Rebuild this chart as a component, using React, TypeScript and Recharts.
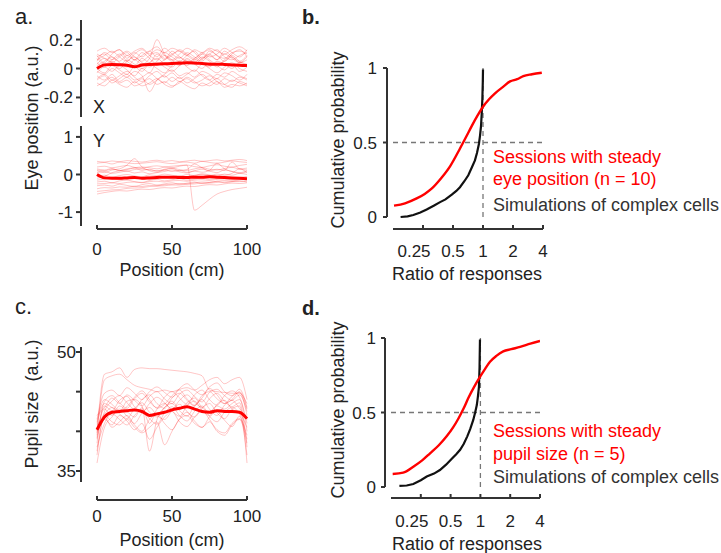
import React from 'react';
import { LineChart, Line, XAxis, YAxis, ReferenceLine } from 'recharts';

// ---- panel a / c : position along track (cm)
const positions = [0, 5, 10, 15, 20, 25, 30, 35, 40, 45, 50, 55, 60, 65, 70, 75, 80, 85, 90, 95, 100];

const eyeXMean = [0.0, 0.025, 0.028, 0.026, 0.022, 0.012, 0.024, 0.028, 0.03, 0.032, 0.035, 0.036, 0.04, 0.038, 0.034, 0.03, 0.03, 0.028, 0.025, 0.022, 0.02];
const eyeXTraces = [
  [0.08, 0.1, 0.06, 0.09, 0.12, 0.08, 0.05, 0.09, 0.11, 0.07, 0.1, 0.12, 0.09, 0.06, 0.1, 0.13, 0.09, 0.07, 0.11, 0.12, 0.1],
  [-0.05, -0.08, -0.04, -0.09, -0.06, -0.1, -0.07, -0.11, -0.08, -0.05, -0.09, -0.06, -0.1, -0.07, -0.04, -0.08, -0.11, -0.07, -0.09, -0.06, -0.08],
  [0.02, 0.05, 0.08, 0.04, 0.01, 0.06, 0.03, 0.07, 0.2, 0.1, 0.05, 0.08, 0.04, 0.07, 0.1, 0.06, 0.03, 0.05, 0.08, 0.04, 0.06],
  [-0.02, -0.04, 0.0, -0.03, -0.06, -0.02, -0.05, -0.16, -0.08, -0.04, -0.01, -0.05, -0.03, -0.06, -0.02, -0.04, -0.07, -0.03, -0.05, -0.08, -0.04],
  [0.12, 0.14, 0.11, 0.13, 0.09, 0.12, 0.14, 0.1, 0.13, 0.11, 0.14, 0.12, 0.09, 0.13, 0.11, 0.14, 0.12, 0.1, 0.13, 0.15, 0.12],
  [0.04, 0.01, 0.05, 0.02, 0.06, 0.03, 0.0, 0.04, 0.07, 0.03, 0.01, 0.05, 0.02, 0.06, 0.04, 0.01, 0.05, 0.03, 0.0, 0.04, 0.02],
  [-0.1, -0.12, -0.08, -0.11, -0.13, -0.09, -0.12, -0.1, -0.07, -0.11, -0.13, -0.09, -0.12, -0.14, -0.1, -0.12, -0.09, -0.13, -0.11, -0.12, -0.1],
  [0.06, 0.09, 0.12, 0.08, 0.05, 0.1, 0.13, 0.09, 0.06, 0.11, 0.08, 0.05, 0.09, 0.12, 0.07, 0.1, 0.13, 0.08, 0.06, 0.09, 0.11],
  [0.0, -0.03, 0.02, -0.01, -0.04, 0.01, -0.02, 0.03, 0.0, -0.03, 0.02, 0.05, 0.01, -0.02, 0.03, 0.0, -0.03, 0.01, 0.04, 0.0, -0.02],
  [0.1, 0.07, 0.04, 0.08, 0.11, 0.06, 0.09, 0.12, 0.08, 0.14, 0.1, 0.07, 0.11, 0.08, 0.05, 0.09, 0.06, 0.1, 0.07, 0.04, 0.08],
  [-0.07, -0.04, -0.08, -0.05, -0.02, -0.06, -0.09, -0.05, -0.02, -0.06, -0.03, -0.07, -0.04, -0.01, -0.05, -0.08, -0.04, -0.06, -0.02, -0.05, -0.07],
  [0.03, 0.07, 0.04, 0.0, 0.05, 0.08, 0.04, 0.01, 0.05, 0.09, 0.06, 0.02, 0.07, 0.04, 0.08, 0.05, 0.01, 0.06, 0.09, 0.05, 0.03],
  [0.07, 0.03, 0.06, 0.1, 0.05, 0.02, 0.07, 0.04, 0.1, 0.06, 0.12, 0.08, 0.05, 0.03, 0.07, 0.1, 0.06, 0.12, 0.08, 0.05, 0.09],
  [-0.03, 0.01, -0.02, 0.02, -0.01, -0.05, 0.0, -0.03, 0.04, 0.01, -0.02, 0.02, 0.06, 0.03, 0.0, 0.04, 0.02, -0.01, 0.03, -0.02, 0.01],
  [0.05, 0.11, 0.08, 0.05, 0.09, 0.06, 0.11, 0.07, 0.03, 0.06, 0.09, 0.13, 0.1, 0.07, 0.11, 0.08, 0.1, 0.14, 0.11, 0.08, 0.13],
  [-0.08, -0.05, -0.1, -0.07, -0.04, -0.08, -0.06, -0.03, -0.07, -0.1, -0.06, -0.09, -0.07, -0.1, -0.08, -0.05, -0.09, -0.11, -0.08, -0.1, -0.12],
  [0.09, 0.04, 0.1, 0.13, 0.07, 0.11, 0.08, 0.12, 0.15, 0.09, 0.06, 0.1, 0.14, 0.11, 0.06, 0.12, 0.09, 0.05, 0.1, 0.13, 0.08],
  [-0.12, -0.09, -0.06, -0.1, -0.08, -0.12, -0.1, -0.07, -0.11, -0.09, -0.12, -0.1, -0.06, -0.09, -0.12, -0.1, -0.07, -0.11, -0.13, -0.09, -0.11],
];

const eyeYMean = [0.0, -0.09, -0.1, -0.1, -0.09, -0.08, -0.1, -0.09, -0.08, -0.07, -0.07, -0.08, -0.08, -0.07, -0.07, -0.06, -0.07, -0.08, -0.09, -0.1, -0.11];
const eyeYTraces = [
  [0.3, 0.32, 0.28, 0.33, 0.31, 0.29, 0.3, 0.32, 0.34, 0.31, 0.29, 0.32, 0.33, 0.3, 0.35, 0.32, 0.3, 0.33, 0.36, 0.34, 0.32],
  [-0.45, -0.43, -0.41, -0.4, -0.37, -0.36, -0.35, -0.32, -0.31, -0.3, -0.28, -0.28, -0.26, -0.25, -0.23, -0.23, -0.21, -0.2, -0.19, -0.19, -0.17],
  [0.1, 0.05, 0.12, 0.15, 0.25, 0.42, 0.2, 0.1, 0.06, 0.12, 0.08, 0.11, 0.06, 0.1, 0.14, 0.09, 0.05, 0.12, 0.08, 0.03, 0.07],
  [-0.1, -0.05, 0.05, 0.1, 0.15, 0.18, 0.2, 0.18, 0.15, 0.2, 0.22, 0.24, 0.25, -0.95, -0.82, -0.66, -0.52, -0.45, -0.4, -0.37, -0.34],
  [-0.3, -0.28, -0.31, -0.26, -0.29, -0.32, -0.27, -0.24, -0.28, -0.25, -0.22, -0.26, -0.23, -0.2, -0.24, -0.21, -0.18, -0.22, -0.19, -0.17, -0.2],
  [0.2, 0.22, 0.18, 0.21, 0.24, 0.19, 0.17, 0.21, 0.23, 0.2, 0.18, 0.22, 0.25, 0.21, 0.19, 0.23, 0.26, 0.22, 0.2, 0.24, 0.27],
  [-0.2, -0.18, -0.22, -0.17, -0.15, -0.19, -0.21, -0.16, -0.13, -0.17, -0.14, -0.11, -0.15, -0.12, -0.09, -0.13, -0.1, -0.07, -0.11, -0.08, -0.05],
  [0.05, 0.08, 0.03, 0.06, 0.09, 0.04, 0.07, 0.02, 0.05, 0.08, 0.12, 0.07, 0.04, 0.09, 0.06, 0.11, 0.3, 0.15, 0.08, 0.05, 0.1],
  [-0.52, -0.48, -0.45, -0.43, -0.44, -0.41, -0.39, -0.4, -0.37, -0.35, -0.36, -0.33, -0.31, -0.32, -0.29, -0.27, -0.28, -0.25, -0.23, -0.24, -0.22],
  [0.15, 0.12, 0.16, 0.1, 0.13, 0.17, 0.11, 0.14, 0.09, 0.12, 0.16, 0.1, 0.13, 0.28, 0.18, 0.1, 0.14, 0.11, 0.33, 0.15, 0.12],
  [-0.05, -0.02, -0.07, -0.03, 0.0, -0.04, -0.06, -0.01, -0.03, 0.01, -0.02, -0.05, 0.0, -0.03, 0.02, -0.01, -0.04, 0.01, -0.02, 0.03, 0.0],
  [0.35, 0.33, 0.36, 0.34, 0.37, 0.35, 0.33, 0.36, 0.38, 0.35, 0.37, 0.34, 0.36, 0.38, 0.35, 0.37, 0.39, 0.36, 0.38, 0.4, 0.37],
  [-0.38, -0.35, -0.36, -0.33, -0.34, -0.31, -0.32, -0.29, -0.3, -0.27, -0.26, -0.24, -0.25, -0.22, -0.2, -0.21, -0.18, -0.16, -0.17, -0.14, -0.12],
  [-0.15, -0.12, -0.1, -0.13, -0.09, -0.11, -0.08, -0.06, -0.09, -0.05, -0.07, -0.03, -0.06, -0.02, 0.0, -0.03, 0.01, -0.02, 0.03, 0.15, 0.05],
  [0.12, 0.1, 0.14, 0.11, 0.09, 0.13, 0.15, 0.12, 0.1, 0.14, 0.17, 0.13, 0.11, 0.15, 0.18, 0.14, 0.12, 0.16, 0.19, 0.15, 0.17],
  [-0.25, -0.24, -0.22, -0.24, -0.21, -0.2, -0.22, -0.19, -0.18, -0.2, -0.17, -0.16, -0.18, -0.15, -0.14, -0.16, -0.13, -0.12, -0.14, -0.11, -0.1],
];

const pupilMean = [40.2, 41.8, 42.4, 42.5, 42.6, 42.7, 42.5, 42.0, 42.2, 42.4, 42.7, 42.9, 43.1, 42.8, 42.5, 42.4, 42.6, 42.5, 42.5, 42.4, 41.6];
const pupilTraces = [
  [40.0, 47.2, 47.5, 48.0, 46.8, 47.8, 48.0, 47.9, 47.9, 47.8, 47.7, 47.6, 47.5, 47.3, 47.0, 45.2, 45.0, 44.9, 44.8, 44.8, 43.5],
  [39.5, 46.5, 47.0, 47.2, 46.5, 45.8, 45.5, 45.3, 45.0, 45.2, 45.0, 45.3, 45.5, 45.2, 45.8, 46.5, 46.8, 46.0, 46.5, 46.8, 44.0],
  [41.0, 43.5, 43.0, 42.5, 43.8, 44.0, 43.2, 37.5, 41.5, 43.0, 43.5, 42.8, 43.6, 44.2, 43.0, 42.5, 43.2, 42.8, 43.5, 44.0, 40.0],
  [39.0, 42.0, 41.2, 40.8, 41.5, 40.5, 39.8, 40.5, 41.2, 38.3, 40.0, 41.5, 42.0, 41.0, 40.5, 41.2, 40.0, 39.5, 40.8, 41.5, 38.5],
  [37.0, 42.5, 43.8, 44.5, 43.6, 42.8, 44.0, 44.6, 43.5, 42.9, 44.2, 44.8, 43.9, 43.2, 44.5, 45.0, 44.1, 43.5, 44.4, 44.9, 42.0],
  [36.0, 40.5, 41.8, 42.8, 41.9, 41.0, 42.3, 43.0, 42.0, 41.5, 42.6, 43.4, 42.5, 41.8, 42.9, 43.5, 42.3, 41.6, 42.8, 43.2, 36.0],
  [38.5, 43.8, 44.5, 43.6, 42.9, 44.1, 44.8, 43.7, 43.0, 44.3, 45.0, 44.2, 43.4, 44.6, 45.2, 44.0, 43.3, 44.5, 45.1, 44.3, 41.0],
  [40.5, 41.5, 40.8, 42.0, 41.3, 40.2, 41.0, 39.0, 40.5, 41.8, 42.5, 41.2, 40.6, 41.8, 42.6, 41.5, 40.2, 39.8, 41.0, 41.6, 39.5],
  [41.5, 44.8, 45.2, 44.5, 45.5, 44.8, 44.0, 45.0, 45.6, 44.9, 44.3, 45.4, 46.0, 45.2, 44.6, 45.6, 46.1, 45.0, 44.5, 45.3, 43.0],
  [38.0, 41.0, 42.2, 41.5, 40.8, 42.0, 42.8, 41.6, 40.9, 42.3, 43.1, 42.0, 41.3, 42.5, 43.2, 41.9, 41.2, 42.4, 43.0, 42.2, 39.0],
  [39.8, 42.8, 42.0, 43.2, 42.5, 41.8, 43.0, 41.0, 42.8, 43.5, 42.6, 41.9, 43.2, 43.8, 42.7, 42.0, 43.4, 43.9, 42.8, 42.3, 40.5],
  [42.0, 43.0, 44.2, 43.5, 44.6, 43.9, 43.2, 44.4, 45.0, 44.1, 43.5, 44.7, 45.2, 44.4, 43.7, 44.9, 45.3, 44.5, 43.9, 44.6, 42.5],
  [37.5, 41.8, 40.5, 41.2, 42.0, 40.8, 40.0, 41.5, 42.2, 41.0, 40.2, 41.6, 42.4, 41.3, 40.5, 41.8, 42.5, 41.4, 40.6, 41.9, 37.0],
  [40.8, 42.2, 43.0, 42.2, 41.6, 42.9, 43.6, 42.4, 41.8, 43.0, 43.8, 42.6, 41.9, 43.2, 44.0, 42.8, 42.0, 43.3, 43.9, 42.9, 41.5],
  [39.2, 43.2, 42.6, 43.9, 44.4, 43.1, 42.4, 43.5, 44.3, 43.6, 42.8, 43.9, 44.6, 43.7, 43.0, 44.1, 44.8, 43.8, 43.1, 43.6, 38.0],
  [41.2, 44.0, 43.4, 42.6, 43.1, 44.3, 45.1, 44.0, 42.9, 43.4, 44.5, 45.2, 44.1, 43.3, 44.2, 45.4, 44.6, 43.5, 44.0, 45.0, 42.8],
];

// ---- panel b / d : cumulative distributions of response ratio
const ratioTicks = [0.25, 0.5, 1, 2, 4];

const eyeSessRatio = [0.128, 0.165, 0.216, 0.26, 0.305, 0.38, 0.467, 0.588, 0.68, 0.77, 0.88, 1.0, 1.15, 1.32, 1.6, 1.87, 2.2, 2.54, 3.1, 3.89];
const eyeSessCdf = [0.076, 0.092, 0.125, 0.155, 0.19, 0.26, 0.34, 0.46, 0.54, 0.61, 0.68, 0.74, 0.79, 0.83, 0.875, 0.91, 0.925, 0.946, 0.958, 0.968];
const eyeSimRatio = [0.149, 0.175, 0.2, 0.235, 0.272, 0.32, 0.371, 0.42, 0.486, 0.54, 0.587, 0.65, 0.712, 0.77, 0.83, 0.87, 0.91, 0.935, 0.955, 0.972, 0.985, 0.995, 1.0];
const eyeSimCdf = [0.0, 0.004, 0.013, 0.03, 0.05, 0.075, 0.1, 0.118, 0.15, 0.175, 0.2, 0.24, 0.28, 0.33, 0.38, 0.43, 0.49, 0.55, 0.61, 0.7, 0.79, 0.9, 0.99];

const pupilSessRatio = [0.13, 0.166, 0.21, 0.26, 0.31, 0.38, 0.456, 0.53, 0.6, 0.68, 0.753, 0.87, 0.993, 1.12, 1.25, 1.45, 1.7, 2.05, 2.52, 3.2, 4.0];
const pupilSessCdf = [0.087, 0.096, 0.136, 0.18, 0.226, 0.28, 0.34, 0.4, 0.46, 0.53, 0.595, 0.675, 0.74, 0.795, 0.84, 0.88, 0.91, 0.925, 0.94, 0.962, 0.98];
const pupilSimRatio = [0.152, 0.18, 0.21, 0.25, 0.287, 0.34, 0.39, 0.45, 0.514, 0.57, 0.624, 0.68, 0.737, 0.79, 0.847, 0.885, 0.92, 0.945, 0.966, 0.98, 0.99];
const pupilSimCdf = [0.007, 0.01, 0.02, 0.045, 0.07, 0.09, 0.114, 0.15, 0.19, 0.22, 0.25, 0.29, 0.34, 0.39, 0.45, 0.5, 0.55, 0.61, 0.67, 0.8, 0.99];

const W = 721;
const H = 553;
const FONT = '"Liberation Sans", Arial, Helvetica, sans-serif';
const AXIS = '#333';
const TEXT = '#222';
const RED = '#ff0000';

const traceRows = (mean: number[], traces: number[][]) =>
  positions.map((p, i) => {
    const row: Record<string, number> = { pos: p, mean: mean[i] };
    traces.forEach((t, k) => { row['t' + k] = t[i]; });
    return row;
  });

const cdfRows = (xs: number[], ys: number[]) => xs.map((x, i) => ({ ratio: x, p: ys[i] }));

// plot box (page px) -> chart margin
const Y_W = 50;
const X_H = 40;
const margins = (l: number, t: number, r: number, b: number, xH: number) => ({
  left: l - Y_W, top: t, right: W - r, bottom: H - b - xH,
});

const axisLine = { stroke: AXIS, strokeWidth: 2 };
const tickFont = { fontSize: 17, fill: TEXT };

// "0.25" sits a little left of its tick in the original
const RatioTick = ({ x, y, payload }: any) => (
  <text x={x + (payload.value === 0.25 ? -9 : 0)} y={y} dy="0.71em" textAnchor="middle" fontSize={17} fill={TEXT}>
    {String(payload.value)}
  </text>
);

type TraceProps = {
  cls: string; rows: Record<string, number>[]; n: number; box: number[];
  yDomain: number[]; yTicks: number[]; yFmt?: (v: number) => string;
  showX: boolean; xTm?: number; yTm: number;
};

const TraceChart = ({ cls, rows, n, box, yDomain, yTicks, yFmt, showX, xTm = 18, yTm }: TraceProps) => {
  const [l, t, r, b] = box;
  return (
    <div className={cls} style={{ position: 'absolute', left: 0, top: 0 }}>
      <LineChart width={W} height={H} data={rows} margin={margins(l, t, r, b, showX ? X_H : 0)}>
        <XAxis dataKey="pos" type="number" domain={[0, 100]} ticks={[0, 50, 100]} interval={0}
          hide={!showX} height={X_H} axisLine={axisLine} tickLine={axisLine} tickSize={-4} tickMargin={xTm} tick={tickFont} />
        <YAxis type="number" domain={yDomain} ticks={yTicks} interval={0} allowDataOverflow width={Y_W}
          axisLine={axisLine} tickLine={axisLine} tickSize={5} tickMargin={yTm} tick={tickFont} tickFormatter={yFmt} />
        {Array.from({ length: n }, (_, k) => (
          <Line key={k} dataKey={'t' + k} type="monotone" stroke={RED} strokeOpacity={0.25} strokeWidth={0.9}
            dot={false} activeDot={false} isAnimationActive={false} />
        ))}
        <Line dataKey="mean" type="monotone" stroke={RED} strokeWidth={3} dot={false} activeDot={false} isAnimationActive={false} />
      </LineChart>
    </div>
  );
};

type CdfProps = {
  cls: string; box: number[]; sess: { ratio: number; p: number }[]; sim: { ratio: number; p: number }[];
  xTm: number; yTm: number;
};

const CdfChart = ({ cls, box, sess, sim, xTm, yTm }: CdfProps) => {
  const [l, t, r, b] = box;
  return (
    <div className={cls} style={{ position: 'absolute', left: 0, top: 0 }}>
      <LineChart width={W} height={H} margin={margins(l, t, r, b, X_H)}>
        <XAxis dataKey="ratio" type="number" scale="log" domain={[0.125, 4]} ticks={ratioTicks} interval={0} allowDataOverflow
          height={X_H} axisLine={axisLine} tickLine={axisLine} tickSize={-4} tickMargin={xTm} tick={<RatioTick />} />
        <YAxis type="number" domain={[0, 1]} ticks={[0, 0.5, 1]} interval={0} width={Y_W}
          axisLine={axisLine} tickLine={axisLine} tickSize={4} tickMargin={yTm} tick={tickFont} />
        <ReferenceLine y={0.5} stroke="#777" strokeWidth={1.3} strokeDasharray="5 4" />
        <ReferenceLine x={1} stroke="#777" strokeWidth={1.3} strokeDasharray="5 4" />
        <Line data={sim} dataKey="p" type="linear" stroke="#111" strokeWidth={2.2} dot={false} activeDot={false} isAnimationActive={false} />
        <Line data={sess} dataKey="p" type="monotone" stroke={RED} strokeWidth={2.4} dot={false} activeDot={false} isAnimationActive={false} />
      </LineChart>
    </div>
  );
};

// text placed by left edge (or centre) and baseline
const Txt = ({ x, y, size = 18, color = TEXT, bold = false, center = false, children }: any) => (
  <div style={{
    position: 'absolute', left: x, top: y - 0.8465 * size, fontSize: size, lineHeight: 1, color,
    fontWeight: bold ? 700 : 400, whiteSpace: 'pre', transform: center ? 'translateX(-50%)' : undefined,
  }}>{children}</div>
);

const VTxt = ({ cx, cy, size = 18, children }: any) => (
  <div style={{
    position: 'absolute', left: cx, top: cy, fontSize: size, lineHeight: 1, color: TEXT, whiteSpace: 'pre',
    transform: 'translate(-50%, -50%) rotate(-90deg)',
  }}>{children}</div>
);

// axis lines sit away from the plot area (tick labels are placed through tickMargin)
const css = `
.pa .recharts-cartesian-axis.recharts-yAxis, .pa2 .recharts-cartesian-axis.recharts-yAxis, .pc .recharts-cartesian-axis.recharts-yAxis { transform: translate(-16px, 0); }
.pa2 .recharts-cartesian-axis.recharts-xAxis { transform: translate(0, 3px); }
.pc .recharts-cartesian-axis.recharts-xAxis { transform: translate(0, 18px); }
.pb .recharts-cartesian-axis.recharts-yAxis, .pd .recharts-cartesian-axis.recharts-yAxis { transform: translate(-6px, 0); }
.pb .recharts-cartesian-axis.recharts-xAxis { transform: translate(0, 12px); }
.pd .recharts-cartesian-axis.recharts-xAxis { transform: translate(0, 11px); }
`;

export default function App() {
  return (
    <div style={{ position: 'fixed', left: 0, top: 0, width: W, height: H, background: '#fff', fontFamily: FONT, overflow: 'hidden' }}>
      <style>{css}</style>

      {/* a. eye position X / Y */}
      <TraceChart cls="pa" rows={traceRows(eyeXMean, eyeXTraces)} n={eyeXTraces.length} box={[97, 20, 247, 117]}
        yDomain={[-0.335, 0.335]} yTicks={[-0.2, 0, 0.2]} showX={false} yTm={19} />
      <TraceChart cls="pa2" rows={traceRows(eyeYMean, eyeYTraces)} n={eyeYTraces.length} box={[97, 126, 247, 226]}
        yDomain={[-1.37, 1.29]} yTicks={[-1, 0, 1]} showX xTm={21} yTm={19} />

      {/* c. pupil size */}
      <TraceChart cls="pc" rows={traceRows(pupilMean, pupilTraces)} n={pupilTraces.length} box={[97, 347, 247, 482]}
        yDomain={[33.61, 50.63]} yTicks={[35, 40, 45, 50]} yFmt={(v) => (v === 35 || v === 50 ? String(v) : '')}
        showX xTm={32} yTm={16} />

      {/* b. / d. cumulative distributions */}
      <CdfChart cls="pb" box={[393, 68, 543, 217]} sess={cdfRows(eyeSessRatio, eyeSessCdf)} sim={cdfRows(eyeSimRatio, eyeSimCdf)} xTm={32} yTm={12} />
      <CdfChart cls="pd" box={[391, 338, 540, 487]} sess={cdfRows(pupilSessRatio, pupilSessCdf)} sim={cdfRows(pupilSimRatio, pupilSimCdf)} xTm={32} yTm={11} />

      <Txt x={15} y={25} size={22}>a.</Txt>
      <Txt x={302} y={24} size={20} bold>b.</Txt>
      <Txt x={15} y={315} size={22}>c.</Txt>
      <Txt x={302} y={315} size={20} bold>d.</Txt>

      <Txt x={93} y={113}>X</Txt>
      <Txt x={93} y={147}>Y</Txt>

      <VTxt cx={32} cy={118}>Eye position (a.u.)</VTxt>
      <VTxt cx={32} cy={404}>Pupil size  (a.u.)</VTxt>
      <VTxt cx={338} cy={140}>Cumulative probability</VTxt>
      <VTxt cx={338} cy={410}>Cumulative probability</VTxt>

      <Txt x={172} y={276} center>Position (cm)</Txt>
      <Txt x={172} y={546} center>Position (cm)</Txt>
      <Txt x={467} y={280} center>Ratio of responses</Txt>
      <Txt x={467} y={550} center>Ratio of responses</Txt>

      <Txt x={493} y={163} color={RED}>Sessions with steady</Txt>
      <Txt x={493} y={185} color={RED}>eye position (n = 10)</Txt>
      <Txt x={493} y={211} color="#333">Simulations of complex cells</Txt>

      <Txt x={493} y={437} color={RED}>Sessions with steady</Txt>
      <Txt x={493} y={460} color={RED}>pupil size (n = 5)</Txt>
      <Txt x={493} y={483} color="#333">Simulations of complex cells</Txt>
    </div>
  );
}
